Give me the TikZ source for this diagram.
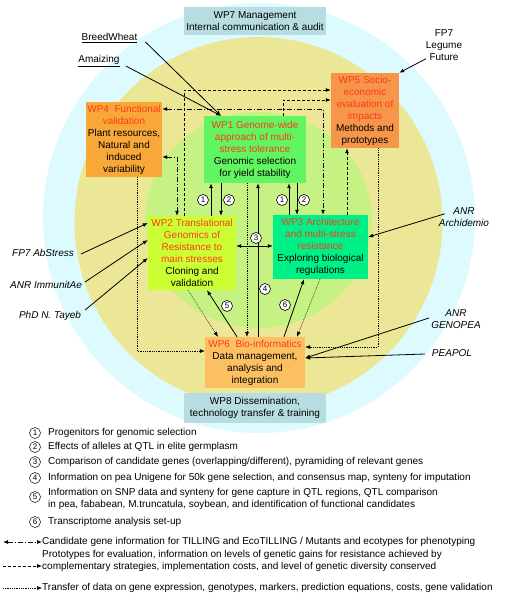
\documentclass[tikz,border=0pt]{standalone}
\usepackage{fontspec}
\setmainfont{Liberation Sans}
\usetikzlibrary{arrows.meta,calc}
\definecolor{cyanbg}{HTML}{DDFBFE}
\definecolor{yellowbg}{HTML}{EBE796}
\definecolor{greenbg}{HTML}{C6F283}
\definecolor{wpteal}{HTML}{B7DDE2}
\definecolor{wpfour}{HTML}{F8A838}
\definecolor{wpfive}{HTML}{F5964A}
\definecolor{wpone}{HTML}{62F562}
\definecolor{wptwo}{HTML}{CCFF33}
\definecolor{wpthree}{HTML}{00F088}
\definecolor{wpsix}{HTML}{FBC062}
\definecolor{wpred}{HTML}{FF3A1A}
\begin{document}
\begin{tikzpicture}[x=1pt,y=-1pt,
  font=\fontsize{10}{12}\selectfont,
  wpbox/.style={rectangle, inner sep=0pt, align=center},
  lbl/.style={inner sep=0pt, align=center, font=\fontsize{10}{12}\selectfont\itshape},
  plain/.style={inner sep=0pt, align=center},
  legtext/.style={inner sep=0pt, anchor=west, align=left},
  arr/.style={-{Latex[length=5pt,width=4pt]}},
  dbl/.style={{Latex[length=5pt,width=4pt]}-{Latex[length=5pt,width=4pt]}},
  solidln/.style={line width=0.8pt},
  dashln/.style={line width=0.8pt, dash pattern=on 3pt off 2pt},
  dashdotln/.style={line width=0.8pt, dash pattern=on 5pt off 2pt on 1pt off 2pt},
  dotln/.style={line width=0.5pt, dash pattern=on 0.8pt off 1pt},
  num/.style={circle, draw, fill=white, line width=0.6pt, inner sep=0pt, minimum size=11pt, font=\fontsize{8}{8}\selectfont},
  legnum/.style={circle, draw, line width=0.5pt, inner sep=0pt, minimum size=11pt, font=\fontsize{8}{8}\selectfont}
]
\useasboundingbox (0,0) rectangle (515,600);
\fill[white] (0,0) rectangle (515,600);
% background ellipses
\fill[cyanbg] (259,218) ellipse [x radius=216, y radius=215];
\fill[yellowbg] (258.5,222) ellipse [x radius=184, y radius=185];
\fill[greenbg] (258.5,220) ellipse [x radius=113.5, y radius=108];

% boxes
\node[wpbox, fill=wpteal, minimum width=142, minimum height=28] (wp7) at (255,21) {WP7 Management\\Internal communication \& audit};
\node[wpbox, fill=wpteal, minimum width=142, minimum height=30] (wp8) at (255,408) {WP8 Dissemination,\\technology transfer \& training};
\node[wpbox, fill=wpfour, minimum width=76, minimum height=75] (wp4) at (124,139.5) {\textcolor{wpred}{WP4\ \ Functional}\\\textcolor{wpred}{validation}\\Plant resources,\\Natural and\\induced\\variability};
\node[wpbox, fill=wpone, minimum width=102, minimum height=67] (wp1) at (255,149.5) {\textcolor{wpred}{WP1 Genome-wide}\\\textcolor{wpred}{approach of multi-}\\\textcolor{wpred}{stress tolerance}\\Genomic selection\\for yield stability};
\node[wpbox, fill=wpfive, minimum width=68, minimum height=75] (wp5) at (365,110.5) {\textcolor{wpred}{WP5 Socio-}\\\textcolor{wpred}{economic}\\\textcolor{wpred}{evaluation of}\\\textcolor{wpred}{impacts}\\Methods and\\prototypes};
\node[wpbox, fill=wptwo, minimum width=88, minimum height=74] (wp2) at (192,253) {\textcolor{wpred}{WP2 Translational}\\\textcolor{wpred}{Genomics of}\\\textcolor{wpred}{Resistance to}\\\textcolor{wpred}{main stresses}\\Cloning and\\validation};
\node[wpbox, fill=wpthree, minimum width=95, minimum height=64] (wp3) at (320.5,247) {\textcolor{wpred}{WP3 Architecture}\\\textcolor{wpred}{and multi-stress}\\\textcolor{wpred}{resistance}\\Exploring biological\\regulations};
\node[wpbox, fill=wpsix, minimum width=100, minimum height=51] (wp6) at (255,362.5) {\textcolor{wpred}{WP6\ \ Bio-informatics}\\Data management,\\analysis and\\integration};

% outside labels
\node[plain] (bw) at (109.5,38) {\underline{BreedWheat}};
\node[plain] (amz) at (99,61) {\underline{Amaizing}};
\node[plain] (fp7lf) at (444,45) {FP7\\Legume\\Future};
\node[lbl] (abs) at (43,253) {FP7 AbStress};
\node[lbl] (imm) at (46,285) {ANR ImmunitAe};
\node[lbl] (phd) at (50,316) {PhD N. Tayeb};
\node[lbl] (arch) at (464,217.5) {ANR\\Archidemio};
\node[lbl] (geno) at (456,319.5) {ANR\\GENOPEA};
\node[lbl] (peapol) at (452,353) {PEAPOL};

% arrows from outside projects
\draw[solidln,arr] ($(bw.east)+(8,4)$) -- (221,0 |- wp1.north);
\draw[solidln,arr] ($(amz.east)+(6,5)$) -- (221,0 |- wp1.north);
\draw[solidln,arr] ($(fp7lf.south)+(-18,-2)$) -- (wp5.north east);
\draw[solidln,arr] ($(abs.east)+(7,1)$) -- (wp2.west |- 0,223);
\draw[solidln,arr] ($(imm.east)+(3,-3)$) -- (wp2.west |- 0,240);
\draw[solidln,arr] ($(phd.east)+(4,-6)$) -- (wp2.west |- 0,258);
\draw[solidln,arr] ($(arch.north west)+(6,6)$) -- (wp3.east |- 0,237);
\draw[solidln,arr] ($(geno.west)+(-2,-1.5)$) -- (wp6.east |- 0,358);
\draw[solidln,arr] ($(peapol.west)+(-7,1)$) -- (wp6.east |- 0,358);

% dashed: prototypes to WP5
\draw[dashln,arr] (184,0 |- wp2.north) |- (wp5.west |- 0,90);
\draw[dashln,arr] (283,0 |- wp1.north) |- (wp5.west |- 0,100);
\draw[dashln,arr] (347,0 |- wp3.north) -- (347,0 |- wp5.south);

% dash-dot: candidate genes / mutants
\draw[dashdotln,dbl] (wp4.east |- 0,109) -| (323,0 |- wp3.north);
\draw[dashdotln,dbl] (wp4.east |- 0,157) -| (177,0 |- wp2.north);

% dotted: data transfer to WP6
\draw[dotln,arr] (137,0 |- wp4.south) |- (wp6.west |- 0,351);
\draw[dotln,arr] (188,0 |- wp2.south) -- (218,0 |- wp6.north);
\draw[dotln,arr] (247,0 |- wp1.south) -- (247,0 |- wp6.north);
\draw[dotln,arr] (320,0 |- wp3.south) -- (297,0 |- wp6.north);
\draw[dotln,arr] (378,0 |- wp5.south) |- (wp6.east |- 0,347);

% solid numbered exchanges
\draw[solidln,arr] (211,0 |- wp2.north) -- (211,0 |- wp1.south);
\draw[solidln,arr] (221,0 |- wp1.south) -- (221,0 |- wp2.north);
\draw[solidln,arr] (289,0 |- wp3.north) -- (289,0 |- wp1.south);
\draw[solidln,arr] (297,0 |- wp1.south) -- (297,0 |- wp3.north);
\draw[solidln,dbl] (wp2.east |- 0,246) -- (wp3.west |- 0,246);
\draw[solidln,arr] (258,0 |- wp6.north) -- (258,0 |- wp1.south);
\draw[solidln,arr] (237,0 |- wp6.north) -- (207,0 |- wp2.south);
\draw[solidln,arr] (284,0 |- wp6.north) -- (304,0 |- wp3.south);

\node[num] (n1a) at (203,200) {1};
\node[num] (n2a) at (229,200) {2};
\node[num] (n1b) at (282,200) {1};
\node[num] (n2b) at (304,200) {2};
\node[num] (n3) at (256,238) {3};
\node[num] (n4) at (265,289) {4};
\node[num] (n5) at (227,306) {5};
\node[num] (n6) at (285,305) {6};

% legend numbers
\node[legnum] (ln1) at (35,433) {1};
\node[legtext] (lt1) at (48,433) {Progenitors for genomic selection};
\node[legnum] (ln2) at (35,447) {2};
\node[legtext] (lt2) at (48,447) {Effects of alleles at QTL in elite germplasm};
\node[legnum] (ln3) at (35,462) {3};
\node[legtext] (lt3) at (48,462) {Comparison of candidate genes (overlapping/different), pyramiding of relevant genes};
\node[legnum] (ln4) at (35,478) {4};
\node[legtext] (lt4) at (48,478) {Information on pea Unigene for 50k gene selection, and consensus map, synteny for imputation};
\node[legnum] (ln5) at (35,497) {5};
\node[legtext] (lt5) at (48,499) {Information on SNP data and synteny for gene capture in QTL regions, QTL comparison\\in pea, fababean, M.truncatula, soybean, and identification of functional candidates};
\node[legnum] (ln6) at (35,522) {6};
\node[legtext] (lt6) at (48,522) {Transcriptome analysis set-up};

% legend line styles
\node[legtext] (lg1) at (42,542) {Candidate gene information for TILLING and EcoTILLING / Mutants and ecotypes for phenotyping};
\coordinate (lc1) at (3,542);
\draw[dashdotln,dbl] (lc1) -- (lg1.west);
\node[legtext] (lg2) at (42,561) {Prototypes for evaluation, information on levels of genetic gains for resistance achieved by\\complementary strategies, implementation costs, and level of genetic diversity conserved};
\coordinate (lc2) at (3,566);
\draw[dashln,arr] (lc2) -- (lg2.west |- lc2);
\node[legtext] (lg3) at (42,588) {Transfer of data on gene expression, genotypes, markers, prediction equations, costs, gene validation};
\coordinate (lc3) at (3,588);
\draw[dotln,arr] (lc3) -- (lg3.west);
\end{tikzpicture}
\end{document}
